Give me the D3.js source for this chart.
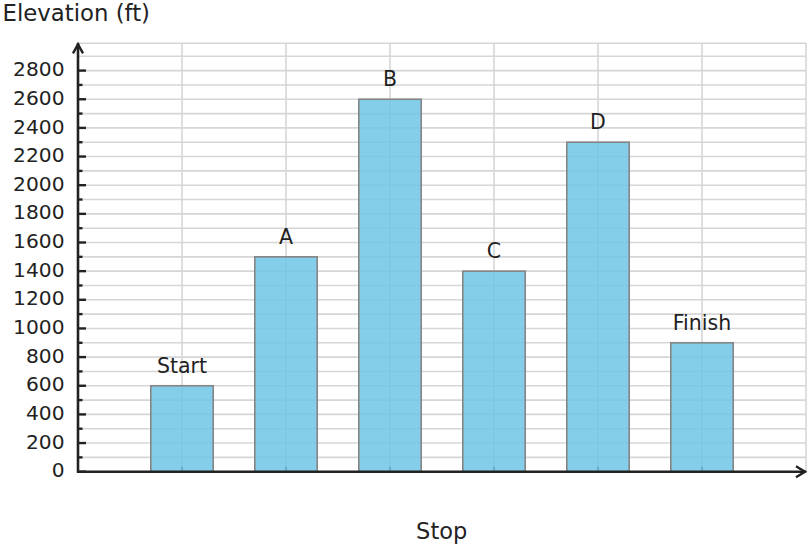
<!DOCTYPE html>
<html><head><meta charset="utf-8">
<script src="https://cdn.jsdelivr.net/npm/d3@7"></script>
<style>body{margin:0;background:#fff}svg{display:block}text{font-family:"DejaVu Sans",sans-serif;fill:#222}</style>
</head><body>
<svg id="c" width="810" height="548"></svg>
<script>
const categories = ["Start","A","B","C","D","Finish"];
const elevations = [600,1500,2600,1400,2300,900];
const yTicks = [0,200,400,600,800,1000,1200,1400,1600,1800,2000,2200,2400,2600,2800];
const yMinorTicks = [100,300,500,700,900,1100,1300,1500,1700,1900,2100,2300,2500,2700];
const gridValues = d3.range(0, 3000, 100);

const svg = d3.select("#c");
const x = d3.scaleLinear().domain([0,7]).range([78,806]);
const y = d3.scaleLinear().domain([0,2800]).range([471.7,70.6]);
const yTop = 43.3;
const grid = svg.append("g").attr("stroke","#d6d6d6").attr("stroke-width",1.6);
grid.selectAll("line.h").data(gridValues).join("line")
  .attr("x1",x(0)).attr("x2",x(7)).attr("y1",d=>y(d)).attr("y2",d=>y(d));
grid.append("line").attr("x1",x(0)).attr("x2",x(7)).attr("y1",yTop).attr("y2",yTop);
grid.selectAll("line.v").data(d3.range(1,8)).join("line")
  .attr("x1",d=>x(d)).attr("x2",d=>x(d)).attr("y1",yTop).attr("y2",y(0));

// x ticks (under bars)
svg.append("g").selectAll("line").data(categories).join("line")
  .attr("x1",(d,i)=>x(i+1)).attr("x2",(d,i)=>x(i+1)).attr("y1",y(0)).attr("y2",y(0)-5)
  .attr("stroke","#222").attr("stroke-width",2);

// bars
const bw = x(0.6)-x(0);
svg.append("g").selectAll("rect").data(elevations).join("rect")
  .attr("x",(d,i)=>x(i+1)-bw/2).attr("width",bw)
  .attr("y",d=>y(d)).attr("height",d=>y(0)-y(d))
  .attr("fill","#6fc6e6").attr("fill-opacity",0.85)
  .attr("stroke","#858585").attr("stroke-width",1.6);

// bar labels
svg.append("g").selectAll("text").data(elevations).join("text")
  .attr("x",(d,i)=>x(i+1)).attr("y",d=>y(d)-12.8)
  .attr("text-anchor","middle").attr("font-size",20.5)
  .text((d,i)=>categories[i]);

// axes
const ax = svg.append("g").attr("stroke","#222").attr("fill","none");
ax.append("line").attr("x1",x(0)).attr("x2",x(0)).attr("y1",y(0)+1).attr("y2",yTop).attr("stroke-width",2.6);
ax.append("line").attr("x1",x(0)-1).attr("x2",x(7)).attr("y1",y(0)).attr("y2",y(0)).attr("stroke-width",2.6);
ax.append("path").attr("d",`M${x(0)-5},${yTop+10}L${x(0)},${yTop+1}L${x(0)+5},${yTop+10}`).attr("stroke-width",2.4);
ax.append("path").attr("d",`M${x(7)-10},${y(0)-5.5}L${x(7)-1},${y(0)}L${x(7)-10},${y(0)+5.5}`).attr("stroke-width",2.4);
ax.selectAll("line.maj").data(yTicks).join("line")
  .attr("x1",x(0)).attr("x2",x(0)+8).attr("y1",d=>y(d)).attr("y2",d=>y(d)).attr("stroke-width",2.4);
ax.selectAll("line.min").data(yMinorTicks).join("line")
  .attr("x1",x(0)).attr("x2",x(0)+4.5).attr("y1",d=>y(d)).attr("y2",d=>y(d)).attr("stroke-width",2.4);

svg.append("g").selectAll("text").data(yTicks).join("text")
  .attr("x",64.5).attr("y",d=>y(d)+5.6).attr("text-anchor","end").attr("font-size",20.2)
  .text(d=>d);

svg.append("text").attr("x",2.5).attr("y",20.7).attr("font-size",22.8).text("Elevation (ft)");
svg.append("text").attr("x",441.7).attr("y",539.3).attr("text-anchor","middle").attr("font-size",22.5).text("Stop");
</script>
</body></html>
